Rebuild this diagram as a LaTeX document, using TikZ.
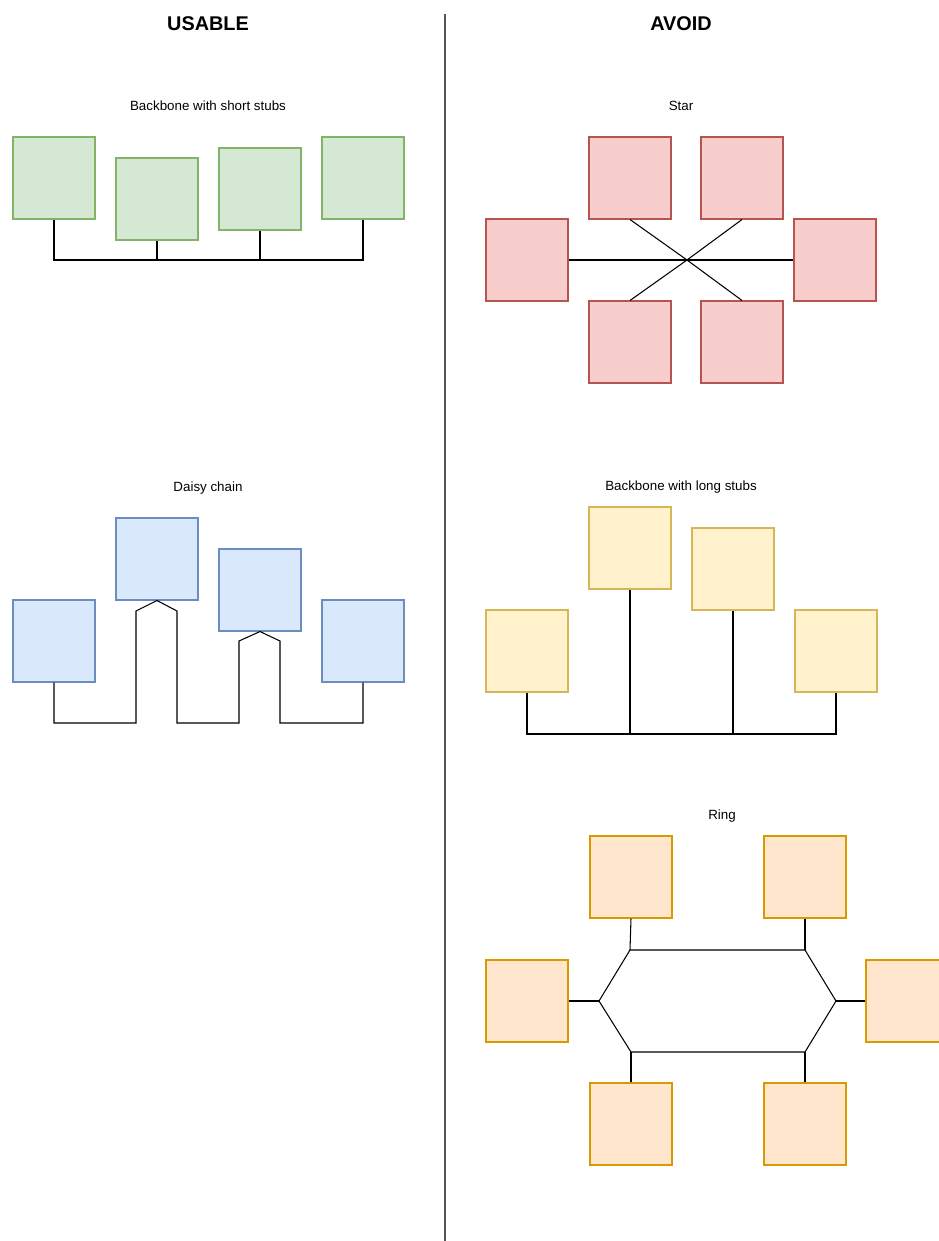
\documentclass[tikz,border=0pt]{standalone}
\usepackage{fontspec}
\setmainfont{Liberation Sans}
\usepackage{tikz}
\usetikzlibrary{positioning,calc}
\definecolor{greenfill}{HTML}{D5E8D4}
\definecolor{greenline}{HTML}{82B366}
\definecolor{redfill}{HTML}{F8CECC}
\definecolor{redline}{HTML}{B85450}
\definecolor{bluefill}{HTML}{DAE8FC}
\definecolor{blueline}{HTML}{6C8EBF}
\definecolor{yellowfill}{HTML}{FFF2CC}
\definecolor{yellowline}{HTML}{D6B656}
\definecolor{orangefill}{HTML}{FFE6CC}
\definecolor{orangeline}{HTML}{D79B00}
\definecolor{divider}{HTML}{555555}

\begin{document}
\begin{tikzpicture}[
  x=0.02cm, y=-0.02cm,
  dev/.style={draw, minimum size=1.64cm, inner sep=0pt, line width=0.6pt},
  gbox/.style={dev, fill=greenfill, draw=greenline},
  rbox/.style={dev, fill=redfill, draw=redline},
  bbox/.style={dev, fill=bluefill, draw=blueline},
  ybox/.style={dev, fill=yellowfill, draw=yellowline},
  obox/.style={dev, fill=orangefill, draw=orangeline},
  heading/.style={font=\fontsize{11.3}{13}\selectfont\bfseries, inner sep=0pt},
  caption/.style={font=\fontsize{7.6}{9}\selectfont, inner sep=0pt},
  wire/.style={draw=black, line width=0.6pt}
]
\clip (0,0) rectangle (939,1241);
\fill[white] (0,0) rectangle (939,1241);

\node[heading] (usable) at (208,24) {USABLE};
\node[heading] (avoid) at (681,24) {AVOID};
\coordinate (divtop) at (445,14);
\coordinate (divbot) at (445,1241);
\draw[divider, line width=0.8pt] (divtop) -- (divbot);

% backbone with short stubs
\node[caption] (shortlbl) at (208,106) {Backbone with short stubs};
\node[gbox] (g1) at (54,178) {};
\node[gbox] (g2) at (157,199) {};
\node[gbox] (g3) at (260,189) {};
\node[gbox] (g4) at (363,178) {};
\coordinate (gbb) at (0,260);
\draw[wire] (g1.south) |- (g4.south |- gbb) -- (g4.south);
\draw[wire] (g2.south) -- (g2.south |- gbb);
\draw[wire] (g3.south) -- (g3.south |- gbb);

% star
\node[caption] (starlbl) at (681,106) {Star};
\node[rbox] (s1) at (630,178) {};
\node[rbox] (s2) at (742,178) {};
\node[rbox] (s3) at (527,260) {};
\node[rbox] (s4) at (835,260) {};
\node[rbox] (s5) at (630,342) {};
\node[rbox] (s6) at (742,342) {};
\coordinate (hub) at (687,260);
\draw[wire] (s3.east) -- (hub) -- (s4.west);
\draw[wire] (s1.south) -- (hub) -- (s6.north);
\draw[wire] (s2.south) -- (hub) -- (s5.north);

% daisy chain
\node[caption] (daisylbl) at (208,488) {Daisy chain};
\node[bbox] (b1) at (54,641) {};
\node[bbox] (b2) at (157,559) {};
\node[bbox] (b3) at (260,590) {};
\node[bbox] (b4) at (363,641) {};
\draw[wire] (b1.south) |- (136,723) -- (136,611) -- (b2.south);
\draw[wire] (b2.south) -- (177,611) -- (177,723) -- (239,723) -- (239,641) -- (b3.south);
\draw[wire] (b3.south) -- (280,641) -- (280,723) -| (b4.south);

% backbone with long stubs
\node[caption] (longlbl) at (681,487) {Backbone with long stubs};
\node[ybox] (y1) at (527,651) {};
\node[ybox] (y2) at (630,548) {};
\node[ybox] (y3) at (733,569) {};
\node[ybox] (y4) at (836,651) {};
\coordinate (ybb) at (0,734);
\draw[wire] (y1.south) |- (y4.south |- ybb) -- (y4.south);
\draw[wire] (y2.south) -- (y2.south |- ybb);
\draw[wire] (y3.south) -- (y3.south |- ybb);

% ring
\node[caption] (ringlbl) at (722,816) {Ring};
\node[obox] (r1) at (631,877) {};
\node[obox] (r2) at (805,877) {};
\node[obox] (r3) at (527,1001) {};
\node[obox] (r4) at (907,1001) {};
\node[obox] (r5) at (631,1124) {};
\node[obox] (r6) at (805,1124) {};
\coordinate (h1) at (599,1001);
\coordinate (h2) at (630,950);
\coordinate (h3) at (805,950);
\coordinate (h4) at (836,1001);
\coordinate (h5) at (805,1052);
\coordinate (h6) at (631,1052);
\draw[wire] (h1) -- (h2) -- (h3) -- (h4) -- (h5) -- (h6) -- cycle;
\draw[wire] (r1.south) -- (h2);
\draw[wire] (r2.south) -- (h3);
\draw[wire] (r3.east) -- (h1);
\draw[wire] (r4.west) -- (h4);
\draw[wire] (r5.north) -- (h6);
\draw[wire] (r6.north) -- (h5);
\end{tikzpicture}
\end{document}
